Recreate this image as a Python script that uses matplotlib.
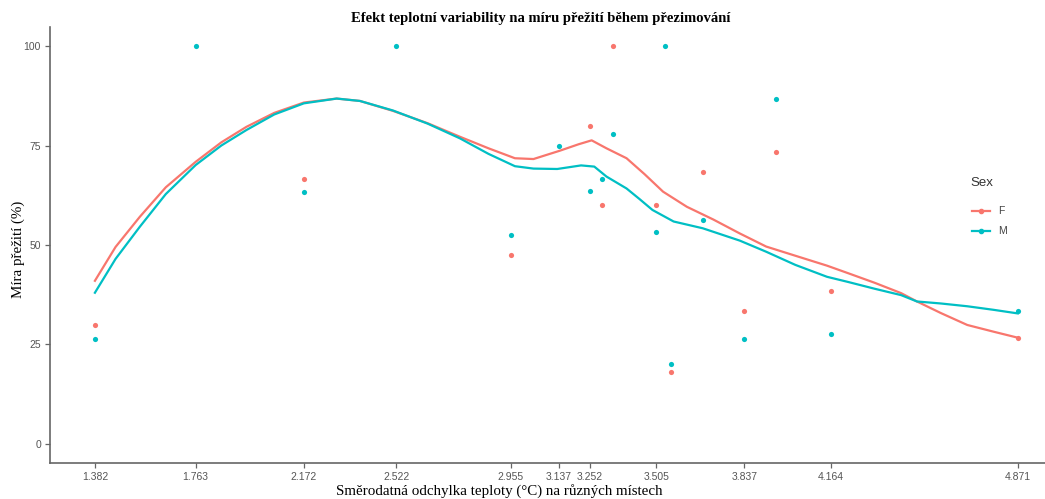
import numpy as np
import matplotlib
matplotlib.use('Agg')
import matplotlib.pyplot as plt
from matplotlib.lines import Line2D

# Data
x_ticks = [1.382, 1.763, 2.172, 2.522, 2.955, 3.137, 3.252, 3.505, 3.837, 4.164, 4.871]
y_ticks = [0, 25, 50, 75, 100]

f_x = [1.382, 2.172, 2.955, 3.252, 3.30, 3.34, 3.505, 3.56, 3.68, 3.837, 3.957, 4.164, 4.871]
f_y = [30.0, 66.7, 47.4, 80.0, 60.0, 100.0, 60.0, 18.2, 68.4, 33.3, 73.3, 38.5, 26.7]

m_x = [1.382, 1.763, 2.172, 2.522, 2.955, 3.137, 3.252, 3.30, 3.34, 3.505, 3.537, 3.56,
       3.68, 3.837, 3.957, 4.164, 4.871]
m_y = [26.3, 100.0, 63.2, 100.0, 52.4, 75.0, 63.6, 66.7, 77.8, 53.3, 100.0, 20.0,
       56.3, 26.3, 86.7, 27.6, 33.3]

# smoothed curves (loess)
f_curve_x = [1.382, 1.46, 1.552, 1.65, 1.763, 1.86, 1.955, 2.06, 2.172, 2.296, 2.384,
             2.509, 2.64, 2.762, 2.87, 2.97, 3.04, 3.14, 3.21, 3.26, 3.316, 3.392, 3.46,
             3.53, 3.62, 3.72, 3.82, 3.92, 4.03, 4.15, 4.23, 4.33, 4.43, 4.49, 4.58,
             4.68, 4.78, 4.871]
f_curve_y = [41.0, 49.5, 57.1, 64.5, 70.9, 75.8, 79.7, 83.2, 85.8, 86.8, 86.2,
             83.7, 80.6, 77.2, 74.3, 71.8, 71.6, 73.7, 75.3, 76.3, 74.3, 71.8, 67.8,
             63.4, 59.6, 56.4, 52.9, 49.6, 47.3, 44.8, 42.9, 40.5, 37.9, 35.8, 32.9,
             29.9, 28.2, 26.7]

m_curve_x = [1.382, 1.46, 1.552, 1.65, 1.763, 1.86, 1.955, 2.06, 2.172, 2.296, 2.384,
             2.509, 2.64, 2.762, 2.87, 2.97, 3.04, 3.13, 3.22, 3.27, 3.316, 3.392, 3.44,
             3.49, 3.57, 3.68, 3.82, 3.92, 4.03, 4.15, 4.23, 4.33, 4.43, 4.49, 4.58,
             4.68, 4.78, 4.871]
m_curve_y = [38.0, 46.5, 54.6, 62.8, 70.1, 75.0, 78.9, 82.8, 85.6, 86.8, 86.2,
             83.8, 80.5, 76.8, 72.9, 69.8, 69.2, 69.1, 70.0, 69.7, 67.2, 64.2, 61.6,
             58.8, 55.9, 54.2, 51.1, 48.3, 45.0, 42.0, 40.7, 39.0, 37.4, 35.8, 35.3,
             34.6, 33.7, 32.8]

red = '#F8766D'
teal = '#00BFC4'

fig = plt.figure(figsize=(10.45, 4.99), dpi=100)
ax = fig.add_axes([0.0478, 0.0721, 0.9522, 0.8739])

# Plot the data
ax.plot(f_curve_x, f_curve_y, color=red, linewidth=1.6, solid_joinstyle='round')
ax.plot(m_curve_x, m_curve_y, color=teal, linewidth=1.6, solid_joinstyle='round')
ax.scatter(f_x, f_y, s=14, color=red, zorder=3, linewidths=0)
ax.scatter(m_x, m_y, s=14, color=teal, zorder=3, linewidths=0)

ax.set_xlim(1.212, 4.974)
ax.set_ylim(-4.8, 104.8)
ax.set_xticks(x_ticks)
ax.set_xticklabels([f'{v:.3f}' for v in x_ticks])
ax.set_yticks(y_ticks)

for s in ['top', 'right']:
    ax.spines[s].set_visible(False)
for s in ['left', 'bottom']:
    ax.spines[s].set_color('#666666')
    ax.spines[s].set_linewidth(1.2)
ax.tick_params(colors='#666666', labelcolor='#555555', length=3.5, width=0.9,
               labelsize=7.5, pad=3)
for lab in ax.get_xticklabels() + ax.get_yticklabels():
    lab.set_family('Liberation Sans')

# Title and labels
fig.text(0.517, 0.962, 'Efekt teplotní variability na míru přežití během přezimování',
         ha='center', va='center', fontsize=10.5, fontweight='bold',
         family='Liberation Serif')
fig.text(0.478, 0.016, 'Směrodatná odchylka teploty (°C) na různých místech',
         ha='center', va='center', fontsize=10.8, family='Liberation Serif')
fig.text(0.017, 0.50, 'Míra přežití (%)', ha='center', va='center', rotation=90,
         fontsize=10.8, family='Liberation Serif')

# Legend (drawn by hand to match ggplot's spacing)
fig.text(970 / 1045, 1 - 183 / 499, 'Sex', ha='left', va='center', fontsize=9.5,
         family='Liberation Sans', color='#333333')
for i, (lab, col) in enumerate([('F', red), ('M', teal)]):
    yy = 1 - (211 + 20 * i) / 499
    fig.add_artist(Line2D([972 / 1045, 990 / 1045], [yy, yy], color=col, lw=1.6,
                          transform=fig.transFigure))
    fig.add_artist(Line2D([981 / 1045], [yy], color=col, marker='o', markersize=3,
                          transform=fig.transFigure))
    fig.text(998 / 1045, yy, lab, ha='left', va='center', fontsize=7.5,
             family='Liberation Sans', color='#444444')

plt.savefig('out.png', dpi=100)
